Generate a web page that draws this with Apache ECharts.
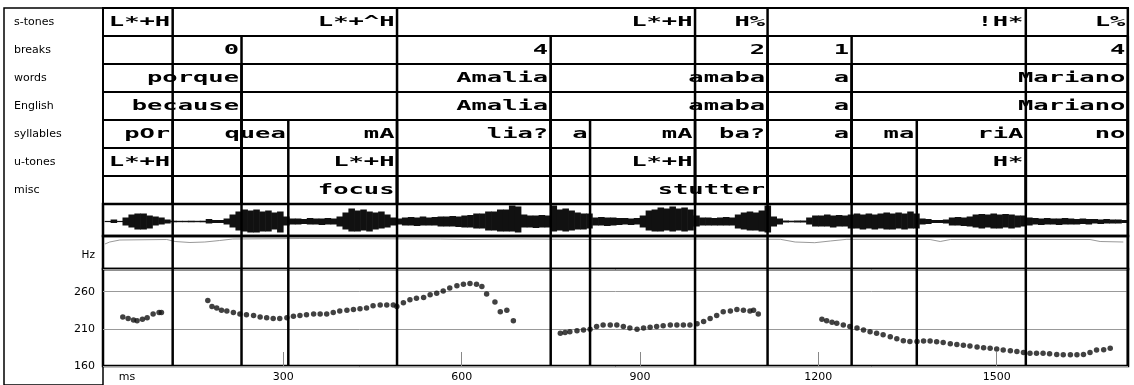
<!DOCTYPE html>
<html><head><meta charset="utf-8">
<script src="https://cdn.jsdelivr.net/npm/echarts@6/dist/echarts.min.js"></script>
<style>html,body{margin:0;padding:0;background:#fff}#c{width:1134px;height:385px}</style>
</head><body><div id="c"></div>
<script>
// ---- data ----
const tierNames = ['s-tones','breaks','words','English','syllables','u-tones','misc'];
const sTones    = [[113.9,'L*+H'],[491.3,'L*+^H'],[992.6,'L*+H'],[1114.6,'H%'],[1549,'!H*'],[1720.6,'L%']];
const breaks    = [[229.7,'0'],[749.8,'4'],[1114.6,'2'],[1256,'1'],[1720.6,'4']];
const words     = [[229.7,'porque'],[749.8,'Amalia'],[1114.6,'amaba'],[1256,'a'],[1720.6,'Mariano']];
const english   = [[229.7,'because'],[749.8,'Amalia'],[1114.6,'amaba'],[1256,'a'],[1720.6,'Mariano']];
const syllables = [[113.9,'pOr'],[308.4,'quea'],[491.3,'mA'],[749.8,'lia?'],[816,'a'],[992.6,'mA'],[1114.6,'ba?'],[1256,'a'],[1365.6,'ma'],[1549,'riA'],[1720.6,'no']];
const uTones    = [[113.9,'L*+H'],[491.3,'L*+H'],[992.6,'L*+H'],[1549,'H*']];
const misc      = [[491.3,'focus'],[1114.6,'stutter']];

// F0 track (ms, Hz)
const f0Seg1 = [[30,226],[39,224],[48,222],[54,221],[63,223],[71,225],[81,230],[91,232],[95,232]];
const f0Seg2 = [[173,248],[180,240],[188,238],[196,235],[205,234],[216,232],[227,230],[238,229],[250,228],[261,226],[272,225],[283,224],[294,224],[306,225],[317,227],[328,228],[339,229],[351,230],[362,230],[373,230],[384,232],[395,234],[407,235],[418,236],[429,237],[440,238],[451,241],[463,242],[474,242],[485,242],[491,240],[502,245],[513,249],[524,251],[536,252],[547,256],[558,258],[569,261],[580,265],[592,268],[603,270],[614,271],[625,270],[634,267],[642,257],[656,246],[665,233],[676,235],[687,221]];
const f0Seg3 = [[766,204],[774,205],[782,206],[794,207.5],[805,208.5],[816,209.5],[827,213],[838,215],[850,215],[861,215],[872,213],[883,211],[895,209.5],[906,211],[917,212],[928,213],[939,214],[951,215],[962,215],[973,215],[984,215],[996,217],[1007,220],[1018,224],[1029,228],[1040,233],[1052,234],[1063,236],[1074,235],[1085,234],[1091,235],[1099,230]];
const f0Seg4 = [[1206,223],[1214,221],[1223,219],[1231,217.5],[1242,215],[1253,213],[1265,211],[1276,208.5],[1287,206],[1298,204],[1309,202],[1321,199.5],[1332,196.5],[1343,194],[1354,193],[1366,193],[1377,193.5],[1388,193.5],[1399,192.5],[1410,191.5],[1422,190],[1433,189],[1444,188],[1455,187],[1467,185.5],[1478,184.5],[1489,184],[1500,183],[1511,181.5],[1523,180.5],[1534,179.5],[1545,178],[1556,177],[1567,177],[1578,177],[1589,176.5],[1601,175.5],[1612,175],[1624,175],[1635,175],[1646,175.5],[1657,178],[1668,181.5],[1680,182],[1691,184]];

// waveform envelope, 10 ms bins (upper / lower amplitude)
const waveBinMs = 10;
const waveUp = [
0.6,2,0.6,4,7,8,8,6,5,4,
2,0.8,0.7,0.7,0.8,0.7,0.8,2.5,1.5,1.5,
3,7,10,12,11,12,10,11,9,10,
5,3,3,2.5,3.5,3,3,3.5,3,5,
9,13,11,12,10,9,10,7,4,3,
4,4.5,4,5,4,4.5,5,5,5.5,5,
6,6.5,8,8,10,10,12,12,16,15,
7,6,6,6.5,6,16,12,13,11,9,
8,8,4,4.5,4,4,3.5,3.5,3,3.5,
6,11,12,14,13,15,13,14,12,6,
4,4,3.5,4,4.5,4,7,9,10,9,
11,16,5,3,1,0.8,1,1,4,6,
6,7,6,6.5,6,7,8,7,8,7,
8,9,8,9,8,10,8,3,2.5,1.5,
1.5,2,4,4.5,4,5,7,7.5,7,8,
7,7.5,7,6,6,4,3.5,3,3.5,3,
3,3.5,3,2.5,3,2.5,2.5,2,2.5,2,
2,1.5];
const waveDown = [
0.6,1.5,0.6,4,6,8,8,7,4,3,
2,0.8,0.7,0.7,0.8,0.7,0.8,2,1.5,1.5,
3,6,9,10,11,11,10,10,8,11,
4,3,3,2.5,3,3,3.5,3,3,5,
8,10,10,9,10,8,7,6,4,3,
4,4,4.5,4,4,4,5,5,5,5.5,
6,6,7,7,9,9,10,10,10,11,
6,6,6.5,6,6,10,9,10,9,8,
8,7,4,4,4.5,4,3.5,3,3.5,3,
6,9,10,10,9,10,9,10,9,5,
4,4,4,4,4,4,7,8,9,9,
10,11,5,3,1,0.8,1,1,3,5,
5,5,6,5,5,7,7,8,7,8,
7,8,8,7,8,7,7,3,2.5,1.5,
1.5,2,4,4,4.5,5,6,7,6,7,
7,6,7,6,5,4,3,3.5,3,3,
3.5,3,3,3,2.5,3,2,2.5,2,2,
2,1.5];

// grey track in the Hz strip (ms, level)
const greyTrack = [[0,25],[8,27],[25,29],[104,29.5],[118,27.5],[143,26.5],[168,27],[193,28.5],[215,30],[328,30.5],[564,30],[614,29.5],[698,30],[833,29.5],[1001,30],[1136,29.7],[1161,27],[1194,26.3],[1220,28],[1248,29.7],[1388,29.5],[1405,27.5],[1422,29.5],[1523,29.7],[1657,29.5],[1674,27.5],[1713,27]];

const timeTicks = [0,300,600,900,1200,1500];
const hzTicks = [160,210,260];

// ---- derived ----
const tiers = [sTones, breaks, words, english, syllables, uTones, misc];
const tierMarks = [];
tiers.forEach((arr, ti) => arr.forEach(([t, lab]) => tierMarks.push({t, tier: ti, label: lab})));
const allMarks = Array.from(new Set(tierMarks.map(m => m.t))).sort((a,b)=>a-b);

const X0 = -3.3, X1 = 1720.9, L = 103, R = 6;
const LW = 2.5;

function renderTier(params, api) {
  const m = tierMarks[params.dataIndex];
  const p = api.coord([m.t, m.tier]);
  const bandH = api.size([0, 1])[1];
  const cs = params.coordSys;
  return {type: 'group', children: [
    {type: 'line', shape: {x1: p[0], y1: p[1] - bandH/2, x2: p[0], y2: cs.y + cs.height},
     style: {stroke: '#000', lineWidth: LW}},
    {type: 'text', x: p[0] - 2.5, y: p[1] + 0.5, scaleX: 1.82,
     style: {text: m.label, x: 0, y: 0, align: 'right', verticalAlign: 'middle',
             fill: '#000', font: 'bold 14px "DejaVu Sans Mono"'}}
  ]};
}
function vline(yv) {
  return function (params, api) {
    const x = api.coord([api.value(0), yv])[0];
    const cs = params.coordSys;
    return {type: 'line', shape: {x1: x, y1: cs.y, x2: x, y2: cs.y + cs.height},
            style: {stroke: '#000', lineWidth: LW}};
  };
}
function renderWave(params, api) {
  const t = api.value(0), up = api.value(1), dn = api.value(2);
  const a = api.coord([t - waveBinMs/2, up]);
  const b = api.coord([t + waveBinMs/2, -dn]);
  return {type: 'rect', shape: {x: a[0] - 0.3, y: a[1], width: b[0]-a[0] + 0.6, height: b[1]-a[1]}, style: {fill: '#111'}};
}

const smallFont = {fontFamily: 'DejaVu Sans', fontSize: 11, color: '#000'};
const hiddenX = gi => ({type: 'value', gridIndex: gi, min: X0, max: X1, show: false});

const option = {
  animation: false,
  backgroundColor: '#fff',
  grid: [
    {left: 4, top: 8, width: 99, height: 390, show: true, borderColor: '#000', borderWidth: 1.5},
    {left: L, right: R, top: 8, height: 196, show: true, borderColor: '#000', borderWidth: 2},
    {left: L, right: R, top: 204, height: 32, show: true, borderColor: '#000', borderWidth: LW},
    {left: L, right: R, top: 236, height: 33, show: true, borderColor: '#000', borderWidth: LW},
    {left: L, right: R, top: 269, height: 97, show: true, borderColor: '#000', borderWidth: LW}
  ],
  xAxis: [
    {type: 'value', gridIndex: 0, show: false, min: 0, max: 1},
    hiddenX(1), hiddenX(2), hiddenX(3),
    {type: 'value', gridIndex: 4, min: X0, max: X1,
     axisLine: {show: false}, splitLine: {show: false},
     axisTick: {show: true, inside: true, length: 14, customValues: timeTicks.slice(1), lineStyle: {color: '#888', width: 1}},
     axisLabel: Object.assign({}, smallFont, {customValues: timeTicks, margin: 6,
        formatter: v => v === 0 ? '{u|ms}' : String(v),
        rich: {u: {fontFamily: 'DejaVu Sans', fontSize: 11, color: '#000', padding: [0, 0, 0, 44]}}})}
  ],
  yAxis: [
    {type: 'value', gridIndex: 0, show: false, min: 0, max: 1},
    {type: 'category', gridIndex: 1, data: tierNames, inverse: true,
     axisLine: {show: false}, axisTick: {show: false},
     axisLabel: {align: 'left', margin: 89, fontFamily: 'DejaVu Sans', fontSize: 11, color: '#000'},
     splitLine: {show: true, lineStyle: {color: '#000', width: 2}}},
    {type: 'value', gridIndex: 2, min: -14.5, max: 17.5, show: false},
    {type: 'value', gridIndex: 3, min: 0, max: 33,
     axisLine: {show: false}, axisTick: {show: false}, splitLine: {show: false},
     axisLabel: Object.assign({}, smallFont, {fontSize: 10.5, customValues: [14], formatter: () => 'Hz', margin: 8})},
    {type: 'value', gridIndex: 4, min: 160, max: 290.5, interval: 50,
     axisLine: {show: false}, axisTick: {show: false},
     axisLabel: Object.assign({}, smallFont, {customValues: hzTicks, margin: 8}),
     splitLine: {show: true, lineStyle: {color: '#999', width: 1}}}
  ],
  series: [
    {type: 'custom', xAxisIndex: 1, yAxisIndex: 1, renderItem: renderTier, silent: true,
     data: tierMarks.map(m => [m.t, m.tier]), encode: {x: 0, y: 1}},
    {type: 'custom', xAxisIndex: 2, yAxisIndex: 2, renderItem: renderWave, silent: true,
     data: waveUp.map((u, i) => [i * waveBinMs + waveBinMs/2, u, waveDown[i]]), encode: {x: 0, y: [1, 2]}},
    {type: 'custom', xAxisIndex: 2, yAxisIndex: 2, renderItem: vline(0), silent: true,
     data: allMarks.map(t => [t, 0]), encode: {x: 0, y: 1}, z: 5},
    {type: 'line', xAxisIndex: 3, yAxisIndex: 3, data: greyTrack, showSymbol: false, silent: true,
     lineStyle: {color: '#999', width: 1}},
    {type: 'custom', xAxisIndex: 3, yAxisIndex: 3, renderItem: vline(10), silent: true,
     data: allMarks.map(t => [t, 10]), encode: {x: 0, y: 1}, z: 5},
    {type: 'scatter', xAxisIndex: 4, yAxisIndex: 4, symbolSize: 5.5, silent: true,
     itemStyle: {color: '#111'}, data: [].concat(f0Seg1, f0Seg2, f0Seg3, f0Seg4)},
    {type: 'custom', xAxisIndex: 4, yAxisIndex: 4, renderItem: vline(200), silent: true,
     data: allMarks.map(t => [t, 200]), encode: {x: 0, y: 1}, z: 5}
  ]
};
const chart = echarts.init(document.getElementById('c'), null, {renderer: 'canvas'});
chart.setOption(option);
</script>
</body></html>
